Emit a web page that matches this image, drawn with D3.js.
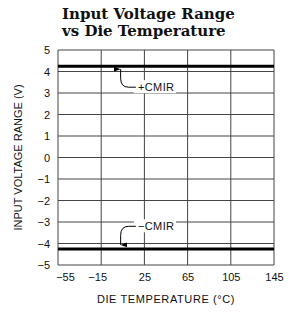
<!DOCTYPE html>
<html>
<head>
<meta charset="utf-8">
<script src="https://cdnjs.cloudflare.com/ajax/libs/d3/7.8.5/d3.min.js"></script>
<style>
  body { margin: 0; background: #fff; }
  svg text { font-family: "Liberation Sans", Arial, sans-serif; fill: #111; }
</style>
</head>
<body>
<div id="chart"></div>
<script>
//--- Daten ------------------------------------------------------------------ //

var titleLines = ['Input Voltage Range', 'vs Die Temperature'];
var xTicks = [-55, -15, 25, 65, 105, 145];
var yTicks = [-5, -4, -3, -2, -1, 0, 1, 2, 3, 4, 5];
var temps = [-55, 145];
var plusCMIR = [4.25, 4.25];
var minusCMIR = [-4.25, -4.25];

//--- Layout ----------------------------------------------------------------- //

var W = 300, H = 312;
var m = { top: 50, left: 58, right: 26, bottom: 47 };

var svg = d3.select('#chart').append('svg')
    .attr('width', W)
    .attr('height', H);

svg.append('defs').append('marker')
    .attr('id', 'arrow')
    .attr('viewBox', '0 0 6 8')
    .attr('refX', 3).attr('refY', 8)
    .attr('markerWidth', 5).attr('markerHeight', 7)
    .attr('markerUnits', 'userSpaceOnUse')
    .attr('orient', 'auto-start-reverse')
    .append('path')
    .attr('d', 'M0,0 L6,0 L3,8 Z')
    .attr('fill', '#000');

var x = d3.scaleLinear().domain([-55, 145]).range([m.left, W - m.right]);
var y = d3.scaleLinear().domain([-5, 5]).range([H - m.bottom, m.top]);

// titel (linksbuendig)
svg.selectAll('.title')
    .data(titleLines)
    .enter().append('text')
    .attr('class', 'title')
    .attr('x', 62)
    .attr('y', function (d, i) { return 19 + i * 17; })
    .attr('text-anchor', 'start')
    .style('font-family', '"DejaVu Serif", "Liberation Serif", serif')
    .style('font-weight', 'bold')
    .style('font-size', '15px')
    .text(function (d) { return d; });

// gitter
var grid = svg.append('g').attr('stroke', '#444').attr('stroke-width', 1);

grid.selectAll('.hl')
    .data(yTicks)
    .enter().append('line')
    .attr('x1', x(-55)).attr('x2', x(145))
    .attr('y1', function (d) { return y(d); })
    .attr('y2', function (d) { return y(d); });

grid.selectAll('.vl')
    .data(xTicks)
    .enter().append('line')
    .attr('y1', y(5)).attr('y2', y(-5))
    .attr('x1', function (d) { return x(d); })
    .attr('x2', function (d) { return x(d); });

// achsen
var yAxis = svg.append('g')
    .attr('transform', 'translate(' + m.left + ',0)')
    .call(d3.axisLeft(y).tickValues(yTicks).tickSize(0).tickPadding(8)
        .tickFormat(function (d) { return d < 0 ? '\u2212' + Math.abs(d) : d; }));
yAxis.select('.domain').remove();
yAxis.selectAll('text').style('font-size', '11px').style('font-family', '"Liberation Sans", Arial, sans-serif');

var xAxis = svg.append('g')
    .attr('transform', 'translate(0,' + y(-5) + ')')
    .call(d3.axisBottom(x).tickValues(xTicks).tickSize(0).tickPadding(8)
        .tickFormat(function (d) { return d < 0 ? '\u2212' + Math.abs(d) : d; }));
xAxis.select('.domain').remove();
xAxis.selectAll('text').style('font-size', '11px').style('font-family', '"Liberation Sans", Arial, sans-serif')
    .attr('dx', function (d, i) { return i == 0 ? 7 : (i == 1 ? -4 : 0); });

// achsentitel
svg.append('text')
    .attr('x', (x(-55) + x(145)) / 2)
    .attr('y', 303)
    .attr('text-anchor', 'middle')
    .style('font-size', '11px')
    .style('letter-spacing', '0.6px')
    .text('DIE TEMPERATURE (\u00B0C)');

svg.append('text')
    .attr('transform', 'translate(22,' + ((y(5) + y(-5)) / 2) + ') rotate(-90)')
    .attr('text-anchor', 'middle')
    .style('font-size', '11px')
    .style('letter-spacing', '0px')
    .text('INPUT VOLTAGE RANGE (V)');

// kurven
var line = d3.line()
    .x(function (d) { return x(d[0]); })
    .y(function (d) { return y(d[1]); });

[plusCMIR, minusCMIR].forEach(function (vals) {
    svg.append('path')
        .datum(d3.zip(temps, vals))
        .attr('fill', 'none')
        .attr('stroke', '#000')
        .attr('stroke-width', 3)
        .attr('d', line);
});

// beschriftungen
function label(txt, tx, ty, dir) {
    var bx = x(tx), by = y(ty);
    svg.append('rect')
        .attr('x', bx - 4).attr('y', by - 7)
        .attr('width', 42).attr('height', 13)
        .attr('fill', '#fff');
    svg.append('text')
        .attr('x', bx).attr('y', by + 4)
        .style('font-size', '11px')
        .style('letter-spacing', '0.4px')
        .text(txt);
    var ax = x(3), tip = dir > 0 ? y(4.25) + 3 : y(-4.25) - 4;
    svg.append('path')
        .attr('d', 'M' + (bx - 2) + ',' + by + ' L' + (ax + 8) + ',' + by +
            ' Q' + ax + ',' + by + ' ' + ax + ',' + (by - dir * 9) +
            ' L' + ax + ',' + tip)
        .attr('fill', 'none')
        .attr('stroke', '#000')
        .attr('stroke-width', 1)
        .attr('marker-end', 'url(#arrow)');
}

label('+CMIR', 19, 3.27, 1);
label('\u2212CMIR', 19, -3.2, -1);
</script>
</body>
</html>
